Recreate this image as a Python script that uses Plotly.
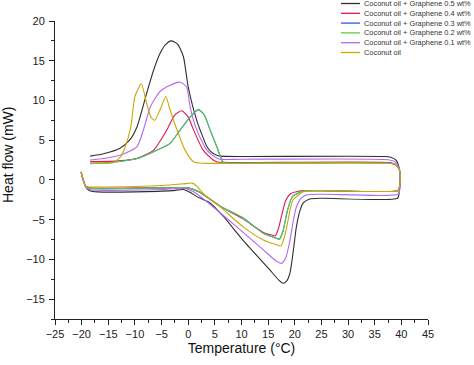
import plotly.graph_objects as go

# ---------------- data ----------------
series_names = [
    "Coconut oil + Graphene 0.5 wt%",
    "Coconut oil + Graphene 0.4 wt%",
    "Coconut oil + Graphene 0.3 wt%",
    "Coconut oil + Graphene 0.2 wt%",
    "Coconut oil + Graphene 0.1 wt%",
    "Coconut oil",
]
series_colors = ["#2f2f2f", "#e3164f", "#3558e0", "#5ccc4a", "#b466f2", "#c9a80a"]

# each curve: heating branch (left->right), turn at 40 °C, cooling branch (right->left)
g05_x = [-20.1, -19.7, -19.2, -18.5, -17, -10, -3, -1, 0.5, 1.6, 4.1, 6.6, 10.3, 15.3, 17.0, 17.8, 18.5, 19.1,
         19.8, 20.3, 21.0, 21.6, 22.8, 25, 39.3, 39.6, 39.8, 39.6, 39.0, 38.0, 37.0, 10, 6.0, 5.35, 4.2, 3.5,
         1.6, 0.0, -0.9, -2.0, -3.2, -4.3, -5.3, -6.5, -7.8, -9.6, -11.0, -12.8, -15.9, -18.4]
g05_y = [1.0, 0.0, -0.9, -1.35, -1.5, -1.5, -1.35, -1.2, -1.6, -2.1, -2.9, -4.6, -7.6, -11.3, -12.6, -13.0, -12.7,
         -11.7, -8.5, -5.9, -3.8, -2.9, -2.4, -2.3, -2.3, -1.5, 0.0, 1.5, 2.5, 2.85, 2.95, 2.95, 3.0, 3.1, 3.6, 4.2,
         7.5, 11.7, 15.5, 17.1, 17.5, 17.0, 15.9, 13.8, 10.9, 6.7, 5.0, 4.0, 3.3, 3.0]

g04_x = [-20.1, -19.7, -19.2, -18.5, -17, -5, 0, 2, 6, 10.3, 14.1, 16.0, 16.3, 16.9, 17.6, 18.3, 19.1, 20.9, 25,
         39.3, 39.6, 39.8, 39.6, 38.8, 37.5, 10, 5.5, 4.7, 2.8, 1.0, 0.0, -1.2, -2.5, -4.0, -6.5, -9.6, -13, -18.4]
g04_y = [1.0, 0.0, -0.8, -1.0, -1.05, -1.0, -1.0, -1.5, -3.3, -4.9, -6.6, -7.0, -7.05, -6.2, -4.3, -2.6, -1.8,
         -1.4, -1.35, -1.35, -1.0, 0.0, 1.3, 2.0, 2.2, 2.2, 2.25, 2.5, 3.75, 6.3, 7.9, 8.7, 8.2, 6.3, 3.75, 2.7,
         2.4, 2.3]

g03_x = [-20.1, -19.7, -19.2, -18.5, -17, -5, 0, 2, 6, 10.3, 14.1, 16.4, 17.1, 17.8, 18.5, 19.2, 19.7, 21.6, 25,
         39.3, 39.6, 39.8, 39.6, 38.8, 37.5, 10, 6.5, 6.0, 5.35, 4.1, 3.0, 1.9, 0.35, -1.5, -3.4, -6.5, -9.6,
         -14.6, -18.4]
g03_y = [1.0, 0.0, -0.85, -1.05, -1.1, -1.0, -1.0, -1.5, -3.3, -4.8, -6.7, -7.3, -7.45, -6.4, -4.2, -2.6, -2.0,
         -1.4, -1.35, -1.35, -1.0, 0.0, 1.3, 1.95, 2.15, 2.15, 2.25, 3.0, 4.2, 6.3, 8.2, 8.85, 7.9, 6.3, 4.6, 3.55,
         2.7, 2.2, 2.1]

g02_x = [-20.1, -19.7, -19.2, -18.5, -17, -5, 0, 2, 6, 10.3, 14.1, 16.4, 17.1, 17.8, 18.5, 19.2, 19.7, 21.6, 25,
         39.3, 39.6, 39.8, 39.6, 38.8, 37.5, 10, 6.5, 6.0, 5.35, 4.1, 3.0, 1.9, 0.35, -1.5, -3.4, -6.5, -9.6,
         -14.6, -18.4]
g02_y = [1.0, 0.0, -0.85, -1.05, -1.1, -1.0, -1.0, -1.5, -3.3, -4.8, -6.7, -7.3, -7.5, -6.4, -4.2, -2.6, -2.0,
         -1.4, -1.35, -1.35, -1.0, 0.0, 1.3, 1.95, 2.1, 2.1, 2.2, 3.0, 4.2, 6.3, 8.2, 8.9, 7.9, 6.3, 4.6, 3.55,
         2.7, 2.2, 2.05]

g01_x = [-20.1, -19.7, -19.2, -18.5, -17, -5, -1, 1, 4.7, 9.1, 14.1, 16.5, 17.5, 18.3, 19.1, 19.7, 20.3, 21.2,
         22.2, 25, 39.4, 39.7, 39.8, 39.6, 38.8, 37.5, 10, 6.0, 5.35, 3.5, 1.6, 0.35, -0.3, -1.5, -3.4, -5.3,
         -7.1, -8.4, -9.6, -12.8, -15.9, -18.4]
g01_y = [1.0, -0.1, -0.9, -1.2, -1.3, -1.2, -1.05, -1.5, -3.4, -5.9, -8.8, -10.2, -10.5, -9.8, -7.6, -5.2, -3.4,
         -2.3, -1.9, -1.8, -1.8, -1.2, 0.0, 1.5, 2.3, 2.55, 2.6, 2.6, 2.75, 3.75, 6.3, 9.2, 11.7, 12.3, 11.9,
         11.1, 9.2, 6.3, 4.2, 3.1, 2.7, 2.5]

co_x = [-20.1, -19.7, -19.2, -18.5, -17, -5, -1, 0.7, 1.5, 2.8, 6.0, 10.3, 14.1, 16.3, 17.4, 17.9, 18.5, 19.1,
        19.7, 21.6, 25, 39.3, 39.6, 39.8, 39.6, 38.8, 37.5, 10, 2.8, 1.0, -0.6, -2.1, -3.4, -4.2, -5.3, -6.3,
        -7.0, -7.8, -8.8, -10.0, -10.6, -10.9, -11.8, -12.6, -14, -18.4]
co_y = [1.0, 0.0, -0.8, -0.9, -0.9, -0.7, -0.5, -0.4, -0.7, -1.7, -3.4, -5.9, -7.55, -8.1, -8.3, -7.5, -5.9,
        -3.8, -2.5, -1.5, -1.35, -1.35, -1.0, 0.0, 1.3, 1.95, 2.1, 2.1, 2.1, 2.3, 3.75, 6.3, 8.8, 10.5, 8.8,
        7.5, 7.9, 9.6, 12.1, 10.5, 7.5, 6.3, 4.2, 3.0, 2.2, 2.1]

series_x = [g05_x, g04_x, g03_x, g02_x, g01_x, co_x]
series_y = [g05_y, g04_y, g03_y, g02_y, g01_y, co_y]

x_ticks = [-25, -20, -15, -10, -5, 0, 5, 10, 15, 20, 25, 30, 35, 40, 45]
y_ticks = [-15, -10, -5, 0, 5, 10, 15, 20]

# ---------------- figure ----------------
W, H = 474, 365
ML, MR, MT, MB = 55, 46, 21, 46
PW, PH = W - ML - MR, H - MT - MB
FONT = "Liberation Sans, Arial, sans-serif"

fig = go.Figure()
for name, xs, ys, col in zip(series_names, series_x, series_y, series_colors):
    fig.add_trace(go.Scatter(x=xs, y=ys, mode="lines", name=name,
                             line=dict(color=col, width=1.1, shape="spline", smoothing=0.6),
                             showlegend=False, hoverinfo="skip"))

axis_font = dict(family=FONT, size=11, color="#222")
fig.update_xaxes(range=[-25, 45], tickvals=x_ticks, ticks="outside", ticklen=5, tickwidth=1,
                 tickcolor="#222", showline=True, linecolor="#222", linewidth=1, showgrid=False,
                 zeroline=False, tickfont=axis_font, automargin=False,
                 minor=dict(dtick=2.5, tick0=0, ticks="outside", ticklen=3, tickcolor="#222"),
                 title=dict(text="Temperature (°C)", font=dict(family=FONT, size=14, color="#111"), standoff=2))
fig.update_yaxes(range=[-17.5, 20], tickvals=y_ticks, ticks="outside", ticklen=5, tickwidth=1,
                 tickcolor="#222", showline=True, linecolor="#222", linewidth=1, showgrid=False,
                 zeroline=False, tickfont=axis_font, ticklabelstandoff=2, automargin=False,
                 minor=dict(dtick=2.5, tick0=0, ticks="outside", ticklen=3, tickcolor="#222"))

# y title placed as in the reference
fig.add_annotation(text="Heat flow (mW)", textangle=-90, xref="paper", yref="paper",
                   x=(8 - ML) / PW, y=(H - MB - 155) / PH, xanchor="center", yanchor="middle",
                   showarrow=False, font=dict(family=FONT, size=14, color="#111"))

# compact legend (drawn manually to match the tight row spacing)
for i, (name, col) in enumerate(zip(series_names, series_colors)):
    py = 3.5 + i * 9.8
    yp = (H - MB - py) / PH
    fig.add_shape(type="line", xref="paper", yref="paper",
                  x0=(341 - ML) / PW, x1=(360 - ML) / PW, y0=yp, y1=yp,
                  line=dict(color=col, width=1.3))
    fig.add_annotation(text=name, xref="paper", yref="paper", x=(362 - ML) / PW, y=yp,
                       xanchor="left", yanchor="middle", showarrow=False,
                       font=dict(family=FONT, size=7.4, color="#333"))

fig.update_layout(width=W, height=H, margin=dict(l=ML, r=MR, t=MT, b=MB, autoexpand=False),
                  paper_bgcolor="white", plot_bgcolor="white", showlegend=False, hovermode=False)

fig.write_html("out.html", config={"displayModeBar": False, "staticPlot": True},
               post_script="document.body.style.margin='0';document.body.style.overflow='hidden';")
